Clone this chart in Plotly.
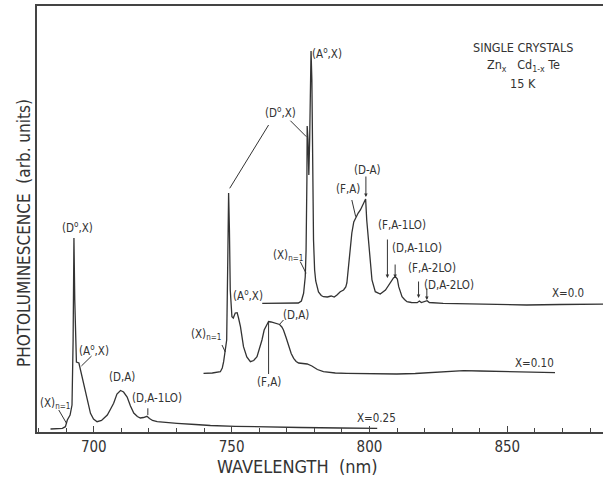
import plotly.graph_objects as go

# ---- data (wavelength nm, intensity arb. units) ----
wl_x025 = [684.3, 688.6, 689.7, 690.4, 691.4, 692.1, 692.5, 692.8, 693.1, 693.4, 693.7, 694.6,
           695.2, 696.1, 697.0, 697.9, 698.8, 699.9, 701.2, 702.8, 704.9, 706.1, 707.2, 708.4,
           709.7, 710.8, 712.1, 713.3, 714.5, 715.8, 716.9, 718.0, 719.3, 720.2, 721.3, 723.0,
           726.0, 730.2, 736.8, 742.3, 751.3, 760.4, 774.9, 789.4, 802.8]
pl_x025 = [3, 3.7, 5.3, 12, 17, 27, 92, 194, 132, 77, 70, 69,
           62, 50, 38.7, 28, 18.7, 13, 10.3, 11.5, 17, 23, 28.7, 38,
           41.5, 40, 35, 26, 19, 15.5, 14, 14.5, 15.7, 13.5, 11.5, 10.3,
           9.5, 8.7, 7.5, 6.5, 5.7, 5, 4.5, 4, 3.7]

wl_x010 = [739.8, 743.0, 745.9, 746.6, 747.1, 747.7, 748.2, 748.6, 748.9, 749.2, 749.5, 750.1,
           750.6, 751.3, 752.0, 752.5, 753.2, 754.3, 755.5, 756.8, 758.0, 759.2, 760.0, 761.0,
           761.8, 762.6, 763.4, 764.3, 765.2, 766.4, 767.4, 768.2, 768.8, 769.8, 770.7, 771.6,
           772.5, 773.4, 774.3, 776.1, 777.4, 779.1, 781.1, 783.3, 787.6, 791.8, 800.3, 809.9,
           816.6, 822.0, 827.4, 834.1, 840.1, 846.2, 854.6, 867.3]
pl_x010 = [58.7, 59, 60.3, 64, 70.3, 80, 92, 172, 239, 202, 142, 115.3,
           114, 119, 119.3, 114, 105.3, 85.3, 75, 70.3, 71.5, 75.3, 82, 92,
           102, 107, 110.5, 110, 109.3, 108.5, 107.5, 105, 102, 94, 85.3, 78.5,
           73.7, 70.5, 69, 68.5, 68, 66, 62.5, 60.3, 59, 58.7, 58.3, 58,
           58.5, 59.3, 60.5, 61.3, 61, 60.7, 60, 59.3]

wl_x000 = [761.1, 767.6, 774.2, 775.3, 776.1, 776.7, 777.0, 777.3, 777.4, 777.7, 778.0, 778.3,
           778.5, 778.8, 779.1, 779.4, 779.7, 780.1, 780.5, 781.5, 782.5, 783.3, 784.7, 786.1,
           787.2, 788.2, 789.4, 790.6, 791.4, 791.8, 792.4, 793.0, 793.6, 794.3, 795.1, 795.9,
           796.7, 797.6, 798.2, 798.6, 799.0, 799.7, 800.3, 800.9, 802.1, 803.9, 805.8, 806.9,
           807.6, 808.7, 809.4, 810.1, 810.6, 811.2, 811.8, 812.7, 813.6, 815.2, 817.3, 818.1,
           818.8, 820.9, 821.7, 826.7, 838.9, 847.3, 857.0, 869.1, 886.0]
pl_x000 = [128.7, 128.7, 129, 131, 138.7, 155.3, 182, 252, 306, 292, 257, 292,
           352, 381, 352, 262, 192, 162, 151, 140, 136.5, 135.3, 135, 136,
           135, 137, 140.3, 142, 145, 149, 165.3, 184, 199, 210, 215.3, 219,
           222, 227, 232, 233, 212, 189, 167, 152, 140.3, 138, 142, 146.5,
           150.3, 154, 155.3, 153, 145.3, 139.5, 135.3, 132.5, 130.3, 129.5, 129.3, 131,
           129.5, 131.3, 129.5, 128.7, 128, 127.5, 127, 127.5, 128]

tick_vals = [700, 750, 800, 850]
tick_text = ["700", "750", "800", "850"]

INK = "#333333"
FONT = "DejaVu Sans Condensed, DejaVu Sans, sans-serif"
NARROW = "Liberation Sans Narrow, DejaVu Sans Condensed, sans-serif"

fig = go.Figure()
for wl, pl in [(wl_x025, pl_x025), (wl_x010, pl_x010), (wl_x000, pl_x000)]:
    fig.add_trace(go.Scatter(x=wl, y=pl, mode="lines",
                             line=dict(color=INK, width=1.3), showlegend=False,
                             hoverinfo="skip"))

# text labels (x, y, text)
labels = [
    (685.8, 29, "(X)<sub>n=1</sub>"),
    (699.9, 82, "(A<sup>o</sup>,X)"),
    (694.1, 205, "(D<sup>o</sup>,X)"),
    (710.3, 55, "(D,A)"),
    (723.1, 34, "(D,A-1LO)"),
    (802.4, 14, "X=0.25"),
    (740.8, 98, "(X)<sub>n=1</sub>"),
    (755.9, 137, "(A<sup>o</sup>,X)"),
    (773.4, 117, "(D,A)"),
    (763.7, 50, "(F,A)"),
    (860.0, 69, "X=0.10"),
    (767.6, 320, "(D<sup>o</sup>,X)"),
    (784.7, 379, "(A<sup>o</sup>,X)"),
    (770.4, 177, "(X)<sub>n=1</sub>"),
    (792.1, 243, "(F,A)"),
    (799.2, 262, "(D-A)"),
    (811.7, 207, "(F,A-1LO)"),
    (817.3, 184, "(D,A-1LO)"),
    (822.6, 164, "(F,A-2LO)"),
    (828.9, 147, "(D,A-2LO)"),
    (872.0, 139, "X=0.0"),
]
for x, y, t in labels:
    fig.add_annotation(x=x, y=y, text=t, showarrow=False, xref="x", yref="y",
                       font=dict(family=FONT, size=11.5, color=INK))

# title block (x, y, text)
block = [
    (855.6, 385, "SINGLE CRYSTALS"),
    (856.0, 367, "Zn<sub>x</sub>   Cd<sub>1-x</sub> Te"),
    (855.6, 349, "15 K"),
]
for x, y, t in block:
    fig.add_annotation(x=x, y=y, text=t, showarrow=False, xref="x", yref="y",
                       font=dict(family=FONT, size=12.5, color=INK))

# plain leader lines (x0, y0, x1, y1)
leaders = [
    (687.3, 22, 690.1, 8.7),
    (699.2, 76, 695.5, 66),
    (719.6, 23.7, 719.6, 17),
    (746.5, 87, 747.7, 80),
    (768.8, 112, 767.5, 108),
    (763.4, 110, 763.4, 58),
    (763.4, 307, 749.3, 243.7),
    (771.3, 311.3, 777.1, 295.3),
    (774.9, 170.3, 777.0, 158.7),
    (793.6, 232, 795.0, 215.3),
]
for x0, y0, x1, y1 in leaders:
    fig.add_shape(type="line", x0=x0, y0=y0, x1=x1, y1=y1, xref="x", yref="y",
                  line=dict(color=INK, width=1))

# arrows (x, y_tail, y_head)
arrows = [
    (798.7, 257, 235),
    (806.5, 194, 154),
    (809.3, 169, 154),
    (817.8, 152, 134),
    (820.8, 145, 132),
]
for x, yt, yh in arrows:
    fig.add_annotation(x=x, y=yh, ax=x, ay=yt, xref="x", yref="y", axref="x", ayref="y",
                       text="", showarrow=True, arrowhead=2, arrowsize=0.7,
                       arrowwidth=1, arrowcolor=INK)

# axis titles
fig.add_annotation(x=0.461, y=-0.082, xref="paper", yref="paper",
                   xanchor="center", yanchor="middle",
                   text="WAVELENGTH  (nm)", showarrow=False,
                   font=dict(family=NARROW, size=18, color=INK))
fig.add_annotation(x=-0.023, y=0.467, xref="paper", yref="paper", textangle=-90,
                   xanchor="center", yanchor="middle",
                   text="PHOTOLUMINESCENCE  (arb. units)", showarrow=False,
                   font=dict(family=NARROW, size=17, color=INK))

fig.update_layout(
    width=603, height=480,
    margin=dict(l=37, r=0, t=6, b=48),
    paper_bgcolor="white", plot_bgcolor="white",
    xaxis=dict(range=[679.4, 884.7], showgrid=False, zeroline=False,
               showline=True, linecolor="#444444", linewidth=1.5, mirror=True,
               ticks="inside", ticklen=6, tickcolor="#444444", tickwidth=1,
               tickvals=tick_vals, ticktext=tick_text,
               minor=dict(dtick=10, tick0=680, ticks="inside", ticklen=4,
                          tickcolor="#444444", tickwidth=1),
               tickfont=dict(family=NARROW, size=15, color=INK)),
    yaxis=dict(range=[0, 426], showgrid=False, zeroline=False,
               showline=True, linecolor="#444444", linewidth=1.5,
               showticklabels=False, ticks=""),
)

fig.write_html("out.html", config={"displayModeBar": False},
               post_script="document.body.style.margin='0px';document.body.style.overflow='hidden';")
